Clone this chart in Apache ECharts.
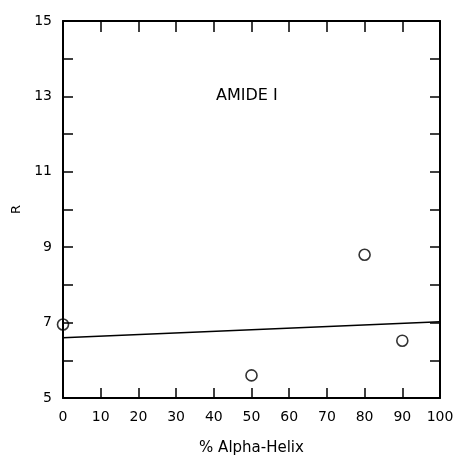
<!DOCTYPE html>
<html>
<head>
<meta charset="utf-8">
<script src="https://cdn.jsdelivr.net/npm/echarts@6/dist/echarts.min.js"></script>
<style>html,body{margin:0;padding:0;background:#fff}#c{width:461px;height:456px}</style>
</head>
<body>
<div id="c"></div>
<script>
// Data
var pointX = [0, 50, 80, 90];
var pointY = [6.95, 5.6, 8.8, 6.52];
var lineX = [0, 100];
var lineY = [6.6, 7.02];
var xTicks = [0, 10, 20, 30, 40, 50, 60, 70, 80, 90, 100];
var yTickLabels = [5, 7, 9, 11, 13, 15];
var annotation = 'AMIDE I';
var xTitle = '% Alpha-Helix';
var yTitle = 'R';

var chart = echarts.init(document.getElementById('c'), null, {renderer: 'canvas'});
var font = 'DejaVu Sans';
var tickStyle = {show: true, inside: true, length: 10, lineStyle: {color: '#000', width: 1.5}};
var axisLine = {show: true, onZero: false, lineStyle: {color: '#000', width: 2}};
var option = {
  backgroundColor: '#fff',
  animation: false,
  grid: {left: 63, right: 21, top: 21, bottom: 58, show: false, containLabel: false, outerBoundsMode: 'none'},
  title: {
    text: annotation, left: 211, top: 83,
    textStyle: {fontFamily: font, fontSize: 16, fontWeight: 'normal', color: '#000'}
  },
  xAxis: [{
    type: 'value', min: 0, max: 100, interval: 10, position: 'bottom',
    name: xTitle, nameLocation: 'middle', nameGap: 43,
    nameTextStyle: {fontFamily: font, fontSize: 15, color: '#000'},
    axisLine: axisLine, axisTick: tickStyle, splitLine: {show: false},
    axisLabel: {fontFamily: font, fontSize: 14, color: '#000', margin: 12,
      formatter: function (v) { return xTicks.indexOf(v) >= 0 ? String(v) : ''; }}
  }, {
    type: 'value', min: 0, max: 100, interval: 10, position: 'top',
    axisLine: axisLine, axisTick: {show: true, inside: true, length: 11, lineStyle: {color: '#000', width: 1.5}},
    axisLabel: {show: false}, splitLine: {show: false}
  }],
  yAxis: [{
    type: 'value', min: 5, max: 15, interval: 1, position: 'left',
    name: yTitle, nameLocation: 'middle', nameGap: 38, nameRotate: 90,
    nameTextStyle: {fontFamily: font, fontSize: 13, color: '#000'},
    axisLine: axisLine, axisTick: tickStyle, splitLine: {show: false},
    axisLabel: {fontFamily: font, fontSize: 14, color: '#000', margin: 11,
      formatter: function (v) { return yTickLabels.indexOf(v) >= 0 ? String(v) : ''; }}
  }, {
    type: 'value', min: 5, max: 15, interval: 1, position: 'right',
    axisLine: axisLine, axisTick: tickStyle, axisLabel: {show: false}, splitLine: {show: false}
  }],
  series: [{
    type: 'line', data: lineX.map(function (x, i) { return [x, lineY[i]]; }),
    symbol: 'none', lineStyle: {color: '#000', width: 1.5}, silent: true
  }, {
    type: 'scatter', data: pointX.map(function (x, i) { return [x, pointY[i]]; }),
    symbol: 'circle', symbolSize: 11,
    itemStyle: {color: 'rgba(255,255,255,0)', borderColor: '#000', borderWidth: 1.6}
  }]
};
chart.setOption(option);
</script>
</body>
</html>
